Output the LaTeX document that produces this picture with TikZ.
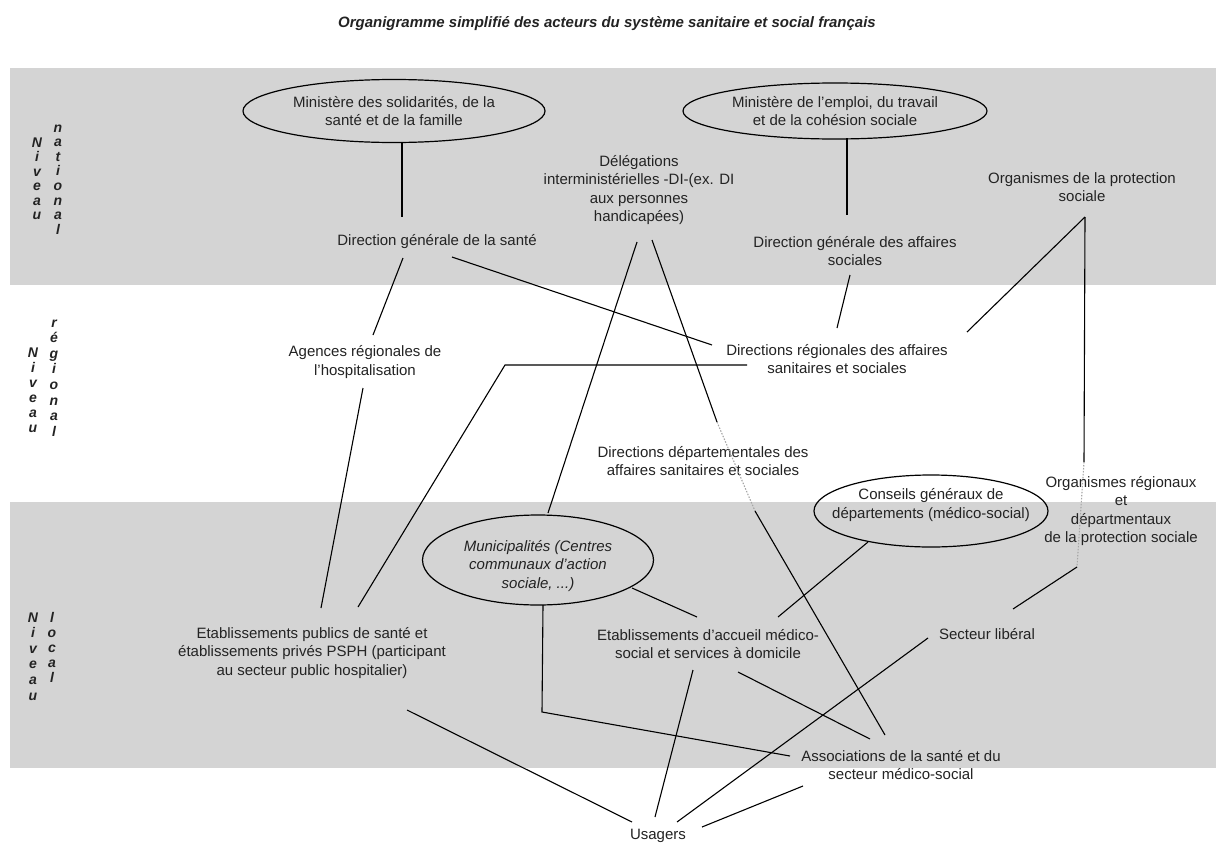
\documentclass[tikz,border=0pt]{standalone}
\usepackage{fontspec}
\setmainfont{Liberation Sans}
\usetikzlibrary{shapes.geometric,calc}
\definecolor{band}{RGB}{212,212,212}
\definecolor{ink}{RGB}{35,35,35}
\begin{document}
\begin{tikzpicture}[x=1pt,y=-1pt,
  lbl/.style={font=\fontsize{15}{18.5}\selectfont, align=center, inner sep=0pt, text=ink},
  ell/.style={lbl, ellipse, draw=black, line width=1.2pt},
  con/.style={draw=black, line width=1.1pt},
  dot/.style={draw=black!35, line width=1.1pt, dash pattern=on 1.5pt off 1.5pt},
  lvl/.style={font=\fontsize{14}{15}\selectfont\bfseries\itshape, inner sep=0pt, anchor=base, text=ink},
  ttl/.style={font=\fontsize{15}{17}\selectfont\bfseries\itshape, inner sep=0pt, text=ink}]
\useasboundingbox (0,0) rectangle (1216,846);
\fill[white] (0,0) rectangle (1216,846);
% bands
\fill[band] (10,68) rectangle (1216,285);
\fill[band] (10,502) rectangle (1216,768);
% title
\node[ttl] (title) at (607,24) {Organigramme simplifié des acteurs du système sanitaire et social français};
% level labels
\foreach \l [count=\i] in {N,i,v,e,a,u} \node[lvl] (nvA\i) at (37,{147+14.5*(\i-1)}) {\l};
\foreach \l [count=\i] in {n,a,t,i,o,n,a,l} \node[lvl] (nat\i) at (58,{132+14.6*(\i-1)}) {\l};
\foreach \l [count=\i] in {N,i,v,e,a,u} \node[lvl] (nvB\i) at (33,{357+15*(\i-1)}) {\l};
\foreach \l [count=\i] in {r,é,g,i,o,n,a,l} \node[lvl] (reg\i) at (54,{327+15.6*(\i-1)}) {\l};
\foreach \l [count=\i] in {N,i,v,e,a,u} \node[lvl] (nvC\i) at (33,{622+15.6*(\i-1)}) {\l};
\foreach \l [count=\i] in {l,o,c,a,l} \node[lvl] (loc\i) at (52,{622+15*(\i-1)}) {\l};
% nodes
\node[ell, minimum width=302, minimum height=63] (min1) at (394,111) {Ministère des solidarités, de la\\santé et de la famille};
\node[ell, minimum width=304, minimum height=56] (min2) at (835,111) {Ministère de l'emploi, du travail\\et de la cohésion sociale};
\node[lbl] (deleg) at (639,190) {Délégations\\interministérielles -DI-(ex. DI\\aux personnes\\handicapées)};
\node[lbl] (dgs) at (437,242) {Direction générale de la santé};
\node[lbl] (dgas) at (855,251) {Direction générale des affaires\\sociales};
\node[lbl] (orgps) at (1082,187) {Organismes de la protection\\sociale};
\node[lbl] (drass) at (837,359) {Directions régionales des affaires\\sanitaires et sociales};
\node[lbl] (arh) at (365,362) {Agences régionales de\\l'hospitalisation};
\node[lbl] (ddass) at (703,461) {Directions départementales des\\affaires sanitaires et sociales};
\node[lbl] (orgreg) at (1121,511) {Organismes régionaux\\et\\départmentaux\\de la protection sociale};
\node[ell, minimum width=234, minimum height=72] (cg) at (931,511) {};
\node[lbl] (cgtext) at (931,505) {Conseils généraux de\\départements (médico-social)};
\node[ell, minimum width=231, minimum height=90] (muni) at (538,560) {};
\node[lbl, font=\fontsize{15}{18.5}\selectfont\itshape] (munitext) at (538,566) {Municipalités (Centres\\communaux d'action\\sociale, ...)};
\node[lbl] (etabpub) at (312,653) {Etablissements publics de santé et\\établissements privés PSPH (participant\\au secteur public hospitalier)};
\node[lbl] (etabacc) at (708,644) {Etablissements d'accueil médico-\\social et services à domicile};
\node[lbl] (liberal) at (987,634) {Secteur libéral};
\node[lbl] (assoc) at (901,765) {Associations de la santé et du\\secteur médico-social};
\node[lbl] (usagers) at (658,836) {Usagers};
% connectors
\draw[con] ($(min1)+(8,32)$) -- ($(dgs)+(-35,-25)$);
\draw[con] ($(dgs)+(-34,16)$) -- ($(arh)+(8,-27)$);
\draw[con] ($(arh)+(-2,26)$) -- ($(etabpub)+(9,-45)$);
\draw[con] ($(dgs)+(15,15)$) -- ($(drass)+(-125,-14)$);
\draw[con] ($(deleg)+(-2,52)$) -- ($(muni)+(10,-47)$);
\draw[con] ($(deleg)+(13,50)$) -- ($(ddass)+(14,-39)$);
\draw[dot] ($(ddass)+(14,-39)$) -- ($(ddass)+(52,50)$);
\draw[con] ($(ddass)+(52,50)$) -- ($(assoc)+(-16,-30)$);
\draw[con] ($(dgas)+(-5,24)$) -- ($(drass)+(0,-31)$);
\draw[con] ($(min2)+(12,27)$) -- ($(dgas)+(-8,-36)$);
\draw[con] ($(orgps)+(3,30)$) -- ($(drass)+(130,-27)$);
\draw[con] ($(orgps)+(3,30)$) -- ($(orgreg)+(-37,-49)$);
\draw[dot] ($(orgreg)+(-37,-49)$) -- ($(orgreg)+(-44,56)$);
\draw[con] ($(orgreg)+(-44,56)$) -- ($(liberal)+(26,-25)$);
\draw[con] ($(drass)+(-90,6)$) -- ($(drass)+(-332,6)$) -- ($(etabpub)+(46,-46)$);
\draw[con] ($(muni)+(94,28)$) -- ($(etabacc)+(-11,-27)$);
\draw[con] ($(muni)+(5,45)$) -- ($(muni)+(4,152)$) -- ($(assoc)+(-111,-9)$);
\draw[con] ($(cg)+(-63,31)$) -- ($(etabacc)+(70,-27)$);
\draw[con] ($(etabacc)+(30,28)$) -- ($(assoc)+(-31,-26)$);
\draw[con] ($(etabacc)+(-15,26)$) -- ($(usagers)+(-3,-19)$);
\draw[con] ($(etabpub)+(95,57)$) -- ($(usagers)+(-26,-14)$);
\draw[con] ($(liberal)+(-59,4)$) -- ($(usagers)+(19,-14)$);
\draw[con] ($(assoc)+(-98,21)$) -- ($(usagers)+(44,-9)$);
\end{tikzpicture}
\end{document}
